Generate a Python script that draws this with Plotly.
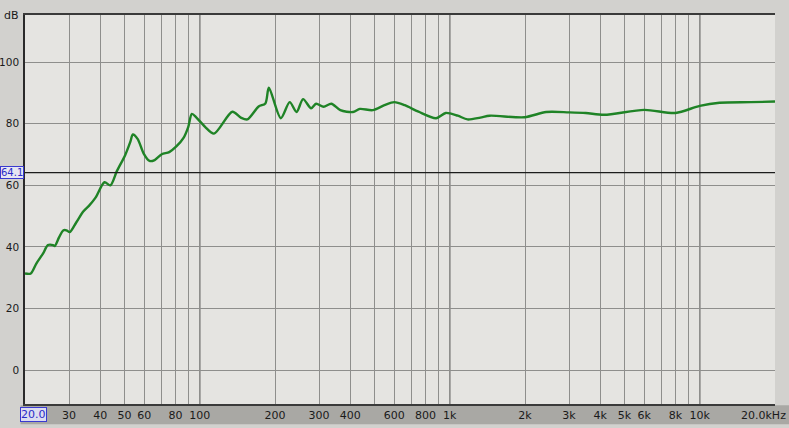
import plotly.graph_objects as go
import math

# ---- data ----
freq_hz = [20, 21.1, 22.2, 23.6, 24.7, 25.9, 26.3, 27.4, 28.5, 29.3, 30.2, 32.1, 34.2, 36.1, 38.3,
           41.6, 43.9, 46.6, 50.3, 52.8, 54, 56.5, 59.6, 63, 66, 70.5, 75.5, 80.8, 86, 90, 93, 97,
           105, 114, 135, 146, 155, 172, 183, 189, 211, 229, 244, 259, 279, 292, 313, 336, 365,
           410, 437, 492, 548, 600, 661, 750, 882, 964, 1076, 1178, 1325, 1445, 1990, 2430, 3000,
           3500, 4150, 6000, 8000, 10000, 12000, 16000, 20000]
level_db = [31.4, 31.4, 34.6, 37.8, 40.6, 40.6, 40.3, 43.2, 45.4, 45.4, 44.8, 48, 51.5, 53.4, 56,
            61, 60, 64.6, 69.8, 74.2, 76.5, 75, 70.4, 67.9, 68.2, 70.1, 70.8, 72.7, 75.3, 79, 83.2, 82,
            79, 76.8, 83.9, 82, 81.4, 85.6, 86.6, 91.7, 81.8, 87, 83.8, 88, 85, 86.5, 85.5, 86.5, 84.4,
            83.8, 84.8, 84.4, 86, 87, 86, 83.9, 81.8, 83.5, 82.6, 81.4, 82, 82.6, 82.1, 83.8, 83.7,
            83.5, 82.9, 84.5, 83.5, 85.8, 86.8, 87, 87.2]

x_tick_vals = [20, 30, 40, 50, 60, 80, 100, 200, 300, 400, 600, 800, 1000, 2000, 3000, 4000,
               5000, 6000, 8000, 10000, 20000]
x_tick_text = ["", "30", "40", "50", "60", "80", "100", "200", "300", "400", "600", "800", "1k",
               "2k", "3k", "4k", "5k", "6k", "8k", "10k", ""]
x_minor_vals = [70, 90, 500, 700, 900, 7000, 9000]
decade_lines = [100, 1000, 10000]
y_tick_vals = [0, 20, 40, 60, 80, 100]
marker_level = 64.1

font = dict(family="DejaVu Sans", size=11, color="#1a1a1a")

fig = go.Figure()
fig.add_trace(go.Scatter(x=freq_hz, y=level_db, mode="lines",
                         line=dict(color="#1f8326", width=2.4, shape="spline", smoothing=0.8),
                         hoverinfo="skip"))

for d in decade_lines:
    fig.add_vline(x=d, line=dict(color="#4a4a4a", width=1.3), layer="below")

fig.add_hline(y=marker_level, line=dict(color="#1c1c1c", width=1.2), layer="above")

# bottom axis band
fig.add_shape(type="rect", xref="paper", yref="paper", x0=-0.006, x1=1.03, y0=-0.003, y1=-0.052,
              fillcolor="#a9a8a4", line=dict(width=0), layer="below")

fig.add_annotation(x=math.log10(20), y=0, xref="x", yref="paper", yanchor="top", yshift=-3,
                   xshift=8, text="20.0", showarrow=False,
                   font=dict(family="DejaVu Sans", size=11, color="#2b2bc8"),
                   bordercolor="#3a3ad0", borderwidth=1, borderpad=0, bgcolor="#dcdcf0")
fig.add_annotation(x=1, y=0, xref="paper", yref="paper", xanchor="right", yanchor="top",
                   yshift=-3, xshift=13, text="20.0kHz", showarrow=False, font=font)
fig.add_annotation(x=0, y=marker_level, xref="paper", yref="y", xanchor="right", xshift=-1,
                   text="64.1", showarrow=False,
                   font=dict(family="DejaVu Sans", size=10, color="#2b2bc8"),
                   bordercolor="#3a3ad0", borderwidth=1, borderpad=0, bgcolor="#e6e6f2")
fig.add_annotation(x=0, y=1, xref="paper", yref="paper", xanchor="right", yanchor="middle",
                   xshift=-4, yshift=0, text="dB", showarrow=False, font=font)

fig.update_layout(
    width=789, height=428,
    margin=dict(l=25, r=14, t=15, b=24),
    paper_bgcolor="#d2d1ce",
    plot_bgcolor="#e5e4e1",
    showlegend=False,
    font=font,
    xaxis=dict(type="log", range=[math.log10(20), math.log10(20000)], automargin=False,
               tickmode="array", tickvals=x_tick_vals, ticktext=x_tick_text,
               showgrid=True, gridcolor="#8e8e8c", gridwidth=1,
               minor=dict(tickmode="array", tickvals=x_minor_vals, showgrid=True,
                          gridcolor="#8e8e8c", gridwidth=1),
               ticks="", showline=True, linecolor="#3a3a3a", linewidth=1.5, mirror=True,
               zeroline=False, ticklabelstandoff=0),
    yaxis=dict(range=[-11, 115.3], tickmode="array", tickvals=y_tick_vals, automargin=False,
               showgrid=True, gridcolor="#8e8e8c", gridwidth=1,
               ticks="", showline=True, linecolor="#2a2a2a", linewidth=1.5,
               zeroline=False, ticklabelstandoff=2, tickfont=dict(size=10.5)),
)

fig.write_html("out.html", config={"displayModeBar": False},
               post_script="document.body.style.margin='0';document.body.style.overflow='hidden';")
